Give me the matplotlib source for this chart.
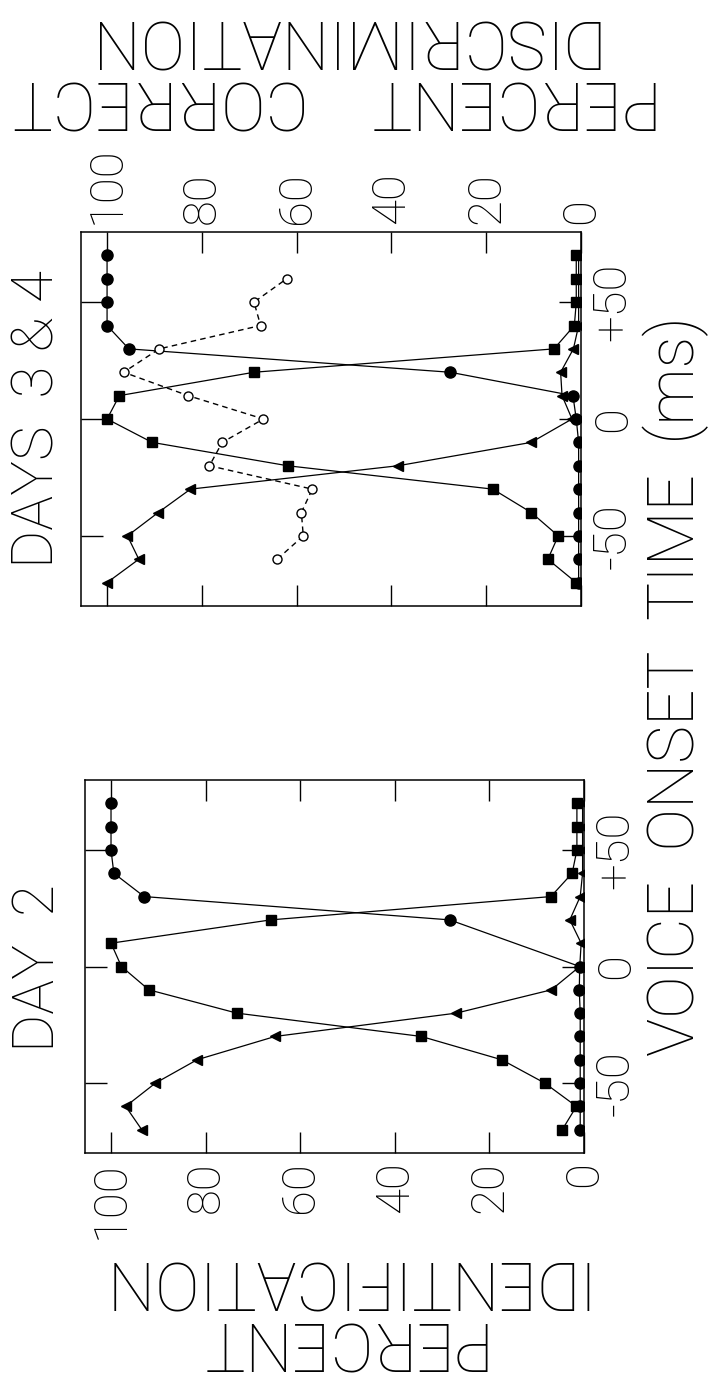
import matplotlib
matplotlib.use('Agg')
import matplotlib.pyplot as plt

# voice onset time of the stimuli (ms)
vot = [-70, -60, -50, -40, -30, -20, -10, 0, 10, 20, 30, 40, 50, 60, 70]

# DAY 2 identification (percent)
tri_day2 = [93.5, 96.9, 90.6, 81.8, 65.3, 27.0, 6.9, 0.9, 0.6, 3.0, 0.8, 0.3, 0.3, 0.3, 0.3]
sq_day2 = [4.6, 1.6, 8.3, 17.4, 34.4, 73.4, 92.0, 97.8, 100.0, 66.2, 7.0, 2.5, 1.5, 1.5, 1.5]
circ_vot_day2 = [-70, -60, -50, -40, -30, -20, -10, 0, 20, 30, 40, 50, 60, 70]
circ_day2 = [0.8, 0.8, 0.8, 0.8, 0.8, 0.8, 1.0, 0.9, 28.4, 93.0, 99.4, 100.0, 100.0, 100.0]

# DAYS 3 & 4 identification (percent)
tri_day34 = [100.0, 93.3, 95.7, 89.2, 82.4, 38.6, 10.5, 1.9, 4.0, 4.3, 1.6, 0.5, 0.5, 0.5, 0.5]
sq_day34 = [1.0, 7.0, 4.8, 10.5, 18.6, 61.9, 90.5, 100.0, 97.4, 69.0, 5.7, 1.4, 1.0, 1.0, 1.0]
circ_day34 = [0.5, 0.5, 0.5, 0.5, 0.5, 0.5, 0.5, 1.0, 1.7, 27.6, 95.4, 100.0, 100.0, 100.0, 100.0]

# DAYS 3 & 4 discrimination (percent correct)
disc_vot = [-60, -50, -40, -30, -20, -10, 0, 10, 20, 30, 40, 50, 60]
disc_day34 = [64.1, 58.6, 59.0, 56.7, 78.4, 75.7, 67.0, 82.9, 96.5, 89.0, 67.6, 69.0, 62.1]

pct_ticks = [0, 20, 40, 60, 80, 100]
pct_labels = ['0', '20', '40', '60', '80', '100']
vot_ticks = [-50, 0, 50]
vot_labels = ['-50', '0', '+50']

plt.rcParams['font.family'] = ['Roboto', 'DejaVu Sans']
plt.rcParams['font.weight'] = 'light'

fig = plt.figure(figsize=(7.08, 13.81), dpi=100)
ax_top = fig.add_axes([81 / 708, 1 - 606 / 1381, 500 / 708, 374 / 1381])
ax_bot = fig.add_axes([85 / 708, 1 - 1153 / 1381, 499 / 708, 373 / 1381])


def style(ax, top):
    ax.set_xlim(105.5, 0)
    ax.set_ylim(-80, 80)
    ax.set_xticks(pct_ticks)
    ax.set_xticklabels(pct_labels, rotation=90)
    ax.set_yticks(vot_ticks)
    ax.set_yticklabels(vot_labels, rotation=90, va='center')
    ax.tick_params(axis='x', direction='in', length=15, width=1, top=True, bottom=True,
                   labeltop=top, labelbottom=not top, labelsize=34, pad=6)
    ax.tick_params(axis='y', direction='in', length=16, width=1, left=True, right=True,
                   labelleft=False, labelright=True, labelsize=34, pad=7)
    for s in ax.spines.values():
        s.set_linewidth(1.1)


def ident(ax, tri, sq, circ_v, circ):
    ax.plot(tri, vot, '-<', color='k', ms=7, lw=0.9)
    ax.plot(sq, vot, '-s', color='k', ms=6.5, lw=0.9)
    ax.plot(circ, circ_v, '-o', color='k', ms=8, lw=0.9)


style(ax_top, True)
style(ax_bot, False)

ident(ax_top, tri_day34, sq_day34, vot, circ_day34)
ax_top.plot(disc_day34, disc_vot, linestyle=(0, (4, 3)), color='k', lw=1,
            marker='o', mfc='white', mec='k', mew=1, ms=6.5)
ident(ax_bot, tri_day2, sq_day2, circ_vot_day2, circ_day2)

fig.text(38 / 708, 1 - 419 / 1381, 'DAYS  3 & 4', rotation=90, ha='center', va='center', fontsize=42)
fig.text(38 / 708, 1 - 968 / 1381, 'DAY  2', rotation=90, ha='center', va='center', fontsize=42)
fig.text(694 / 708, 1 - 686 / 1381, 'VOICE  ONSET  TIME  (ms)', rotation=90,
         rotation_mode='anchor', ha='center', va='baseline', fontsize=46)
fig.text(337 / 708, 1 - 1309 / 1381, 'PERCENT\nIDENTIFICATION', rotation=180,
         ha='center', va='center', multialignment='center', fontsize=48, linespacing=0.95)
fig.text(337 / 708, 1 - 68 / 1381, 'PERCENT    CORRECT\nDISCRIMINATION', rotation=180,
         ha='center', va='center', multialignment='center', fontsize=48, linespacing=0.95)

fig.savefig('out.png', dpi=100)
